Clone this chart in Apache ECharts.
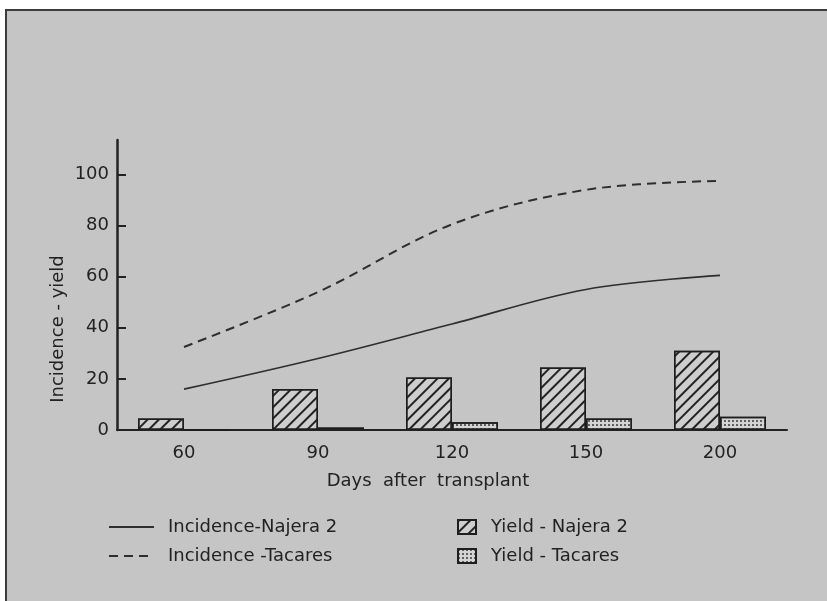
<!DOCTYPE html>
<html>
<head>
<meta charset="utf-8">
<script src="https://cdn.jsdelivr.net/npm/echarts@6/dist/echarts.min.js"></script>
<style>
  html, body { margin: 0; padding: 0; background: #ffffff; }
  #chart { width: 827px; height: 601px; }
</style>
</head>
<body>
<div id="chart"></div>
<script>
// Days after transplant (category axis)
const days = ['60', '90', '120', '150', '200'];
// Disease incidence curves
const incidenceNajera = [16, 28, 41.5, 55, 60.5];
const incidenceTacares = [32.5, 54, 80.5, 94, 97.5];
// Yield bars
const yieldNajera = [4.5, 16, 20.5, 24.5, 31];
const yieldTacares = [0, 1, 3, 4.5, 5.2];
// Y axis ticks
const yTicks = [0, 20, 40, 60, 80, 100];

const ink = '#222222';
const font = 'DejaVu Sans';

const chart = echarts.init(document.getElementById('chart'), null, { renderer: 'canvas' });

const hatch = {
  symbol: 'rect',
  symbolSize: 1,
  dashArrayX: [1, 0],
  dashArrayY: [1.6, 6],
  rotation: -Math.PI / 4,
  color: '#222222'
};
const stipple = {
  symbol: 'circle',
  symbolSize: 1,
  dashArrayX: [2, 1.5],
  dashArrayY: [2, 1.5],
  rotation: 0,
  color: '#3a3a3a'
};

chart.setOption({
  animation: false,
  backgroundColor: '#ffffff',
  textStyle: { fontFamily: font, color: ink },
  graphic: [
    {
      type: 'rect', z: -10, silent: true,
      shape: { x: 6, y: 10, width: 840, height: 610 },
      style: { fill: '#c5c5c5', stroke: '#3c3c3c', lineWidth: 2 }
    },
    {
      type: 'text', silent: true,
      x: 58, y: 329, rotation: Math.PI / 2,
      style: {
        text: 'Incidence - yield', font: '18px "DejaVu Sans"', fill: ink,
        align: 'center', verticalAlign: 'middle'
      }
    },
    {
      type: 'text', silent: true,
      x: 428, y: 481,
      style: {
        text: 'Days  after  transplant', font: '18px "DejaVu Sans"', fill: ink,
        align: 'center', verticalAlign: 'middle'
      }
    }
  ],
  grid: { left: 117, right: 40, top: 140, bottom: 171, containLabel: false },
  legend: [
    {
      orient: 'vertical', left: 103, top: 513,
      itemWidth: 45, itemHeight: 14, itemGap: 11,
      itemStyle: { opacity: 0 },
      textStyle: { fontFamily: font, fontSize: 18, color: ink, padding: [0, 0, 0, 9] },
      data: ['Incidence-Najera 2', 'Incidence -Tacares']
    },
    {
      orient: 'vertical', left: 452, top: 513,
      itemWidth: 18, itemHeight: 14, itemGap: 11,
      icon: 'rect',
      textStyle: { fontFamily: font, fontSize: 18, color: ink, padding: [0, 0, 0, 10] },
      data: ['Yield - Najera 2', 'Yield - Tacares']
    }
  ],
  xAxis: {
    type: 'category',
    data: days,
    boundaryGap: true,
    axisLine: { lineStyle: { color: ink, width: 2 } },
    axisTick: { show: false },
    axisLabel: { fontFamily: font, fontSize: 18, color: ink, margin: 14 },
    splitLine: { show: false }
  },
  yAxis: {
    type: 'value',
    min: 0, max: 113.5, interval: 20,
    axisLine: { show: true, lineStyle: { color: ink, width: 2.5 } },
    axisTick: {
      show: true, inside: true, length: 9,
      lineStyle: { color: ink, width: 2 },
      customValues: yTicks
    },
    axisLabel: {
      fontFamily: font, fontSize: 18, color: ink, margin: 8,
      customValues: yTicks,
      formatter: v => (v % 20 === 0 ? String(v) : '')
    },
    splitLine: { show: false }
  },
  series: [
    {
      name: 'Yield - Najera 2', type: 'bar', data: yieldNajera,
      barWidth: 46, barGap: '0%',
      itemStyle: { color: '#cecece', borderColor: '#1e1e1e', borderWidth: 1.5, decal: hatch }
    },
    {
      name: 'Yield - Tacares', type: 'bar', data: yieldTacares,
      barWidth: 46, barGap: '0%',
      itemStyle: { color: '#d4d4d4', borderColor: '#1e1e1e', borderWidth: 1.5, decal: stipple }
    },
    {
      name: 'Incidence-Najera 2', type: 'line', data: incidenceNajera,
      smooth: 0.35, symbol: 'none', showSymbol: false,
      lineStyle: { color: '#2e2e2e', width: 1.6, type: 'solid' },
      itemStyle: { color: '#2e2e2e' }
    },
    {
      name: 'Incidence -Tacares', type: 'line', data: incidenceTacares,
      smooth: 0.35, symbol: 'none', showSymbol: false,
      lineStyle: { color: '#2e2e2e', width: 2, type: [9, 6] },
      itemStyle: { color: '#2e2e2e' }
    }
  ]
});
</script>
</body>
</html>
